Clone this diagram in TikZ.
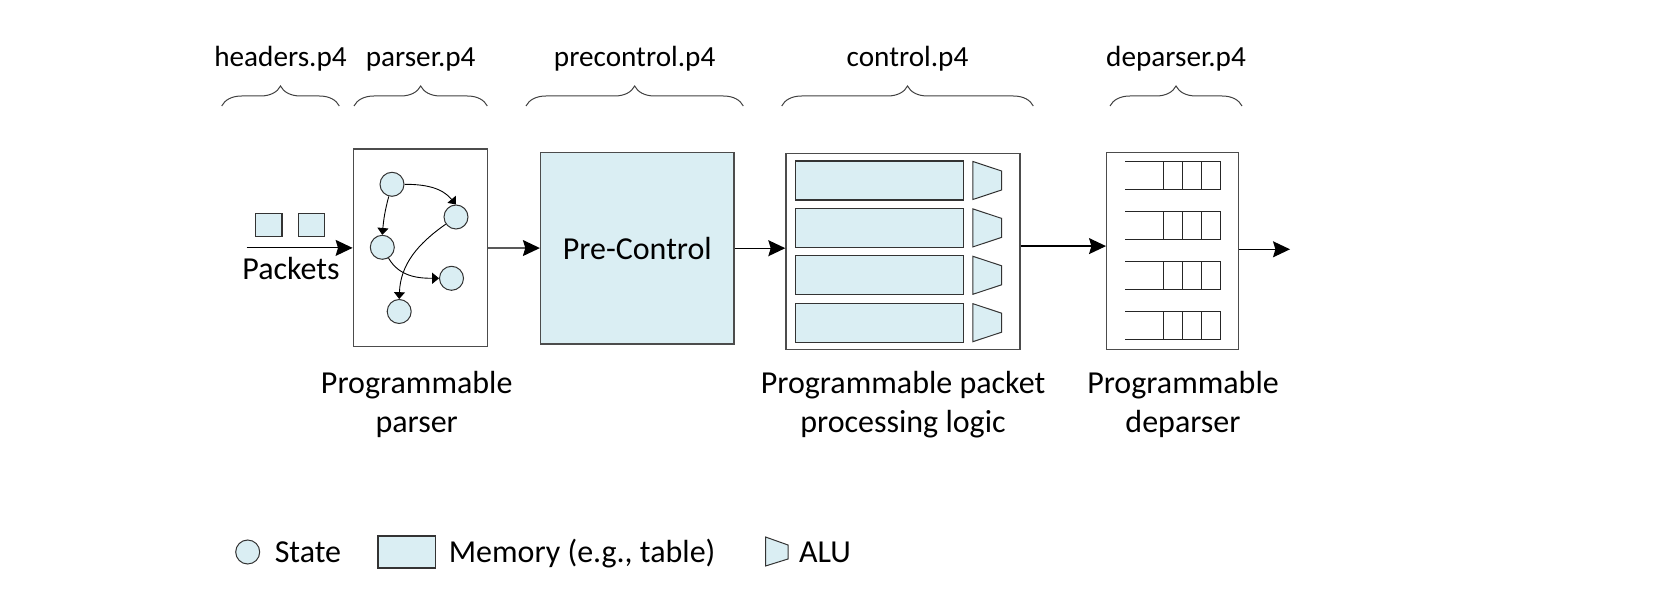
\documentclass[tikz,border=0pt]{standalone}
\usepackage{fontspec}
\setmainfont{Carlito}
\usetikzlibrary{arrows.meta,decorations.pathreplacing,positioning,calc}
\definecolor{memfill}{HTML}{DAEEF3}

\begin{document}
\begin{tikzpicture}[x=0.5pt,y=0.5pt,inner sep=0pt,
  font=\fontsize{16}{19.5}\selectfont,
  blk/.style={draw=black!70, line width=0.7pt},
  state/.style={circle, draw=black!80, fill=memfill, line width=0.5pt, minimum size=12pt},
  mem/.style={draw=black!80, fill=memfill, line width=0.6pt},
  alu/.style={draw=black!80, fill=memfill, line width=0.5pt},
  queue/.style={draw=black!85, line width=0.5pt},
  flow/.style={-{Stealth[length=8.5pt,width=8pt,inset=1.2pt]}, line width=0.6pt},
  jump/.style={-{Triangle[length=3.4pt,width=5.5pt]}, line width=0.45pt},
  brc/.style={decorate, decoration={brace, amplitude=10pt}, draw=black!75, line width=0.5pt},
  blabel/.style={anchor=base, yshift=19.65pt, font=\fontsize{14.6}{17}\selectfont},
  stagecap/.style={align=center, anchor=base}]

  \newcommand\Mrow{47.4};
  \newcommand\Qrow{50};

  \useasboundingbox (0,0) rectangle (1674,610); %% margins

  %% braces and file names
  \draw[brc] (221.7,504) -- node[blabel] (lhdr) {headers.p4} (339.3,504);
  \draw[brc] (354,504) -- node[blabel] (lprs) {parser.p4} (487.3,504);
  \draw[brc] (526,504) -- node[blabel] (lpre) {precontrol.p4} (743.3,504);
  \draw[brc] (781.7,504) -- node[blabel] (lctl) {control.p4} (1033.3,504);
  \draw[brc] (1110,504) -- node[blabel] (ldep) {deparser.p4} (1242,504);

  %% stages
  \node[blk, minimum width=67pt, minimum height=98.85pt] (parser) at (420.3,362.1) {};
  \node[blk, fill=memfill, minimum width=96.7pt, minimum height=95.8pt]
  (precontrol) at (637.3,361.8) {Pre-Control};
  \node[blk, minimum width=117pt, minimum height=98pt] (control) at (903,358.7) {};
  \node[blk, minimum width=66pt, minimum height=98.3pt] (deparser) at (1172.7,359) {};

  %% packets
  \node[mem, minimum width=13.3pt, minimum height=11.7pt] (pk1) at (268.7,385) {};
  \node[mem, minimum width=13.3pt, minimum height=11.7pt] (pk2) at (311.5,385) {};
  \node[anchor=base] (pkt) at (291,330) {Packets};
  \coordinate (pin) at (246.7,362.1);
  \coordinate (pout) at (1290,360.7);

  %% parse graph
  \node[state] (s1) at (392,425.7) {};
  \node[state] (s2) at (456,393) {};
  \node[state] (s3) at (382.3,362.7) {};
  \node[state] (s4) at (451.5,331.7) {};
  \node[state] (s5) at (399.2,298.5) {};
  \draw[jump] (s1) to[out=0, in=130] (s2.north);
  \draw[jump] (s1) to[out=-105, in=85] (s3.north);
  \draw[jump] (s3) to[out=-60, in=180] (s4);
  \draw[jump] (s2) to[out=215, in=88] (s5.north);

  %% match-action rows
  \foreach \i in {1,...,4}{
    \node[mem, minimum width=84pt, minimum height=19.5pt] (m\i) at (879.3,476.9-\i*\Mrow) {};
    \draw[alu] ($(m\i.east)+(9,19)$) -- ++(28.7,-9.5) -- ++(0,-19) -- ++(-28.7,-9.5) -- cycle;
  }

  %% deparser queues
  \foreach \i in {1,...,4}{
    \coordinate (q\i) at (1172.7,484-\i*\Qrow);
    \draw[queue] ($(q\i)+(-47.4,14)$) -- ++(94.7,0) -- ++(0,-28) -- ++(-94.7,0);
    \foreach \k in {1,2,3} \draw[queue] ($(q\i)+(47.3-19*\k,14)$) -- ++(0,-28);
  }

  %% flow
  \draw[flow] (pin) -- (parser);
  \draw[flow] (parser) -- (precontrol);
  \draw[flow] (precontrol.east) -- (precontrol.east -| control.west);
  \draw[flow] ([yshift=2.6pt]control.east) -- ([yshift=2.6pt]control.east -| deparser.west);
  \draw[flow] (deparser.east |- pout) -- (pout);

  %% captions
  \node[stagecap] (cparser) at (416.7,177.7) {Programmable\\parser};
  \node[stagecap] (ccontrol) at (903,177.7) {Programmable packet\\processing logic};
  \node[stagecap] (cdeparser) at (1183,177.7) {Programmable\\deparser};

  %% legend
  \node[state] (kstate) at (247.7,58) {};
  \node[anchor=base west] (tstate) at (274.4,47.5) {State};
  \node[mem, minimum width=28.8pt, minimum height=16pt] (kmem) at (406.8,58) {};
  \node[anchor=base west] (tmem) at (448.4,47.5) {Memory (e.g., table)};
  \draw[alu] (765.5,73) -- (788,65) -- (788,51) -- (765.5,44) -- cycle;
  \node[anchor=base west] (talu) at (798.6,47.5) {ALU};

\end{tikzpicture}
\end{document}
